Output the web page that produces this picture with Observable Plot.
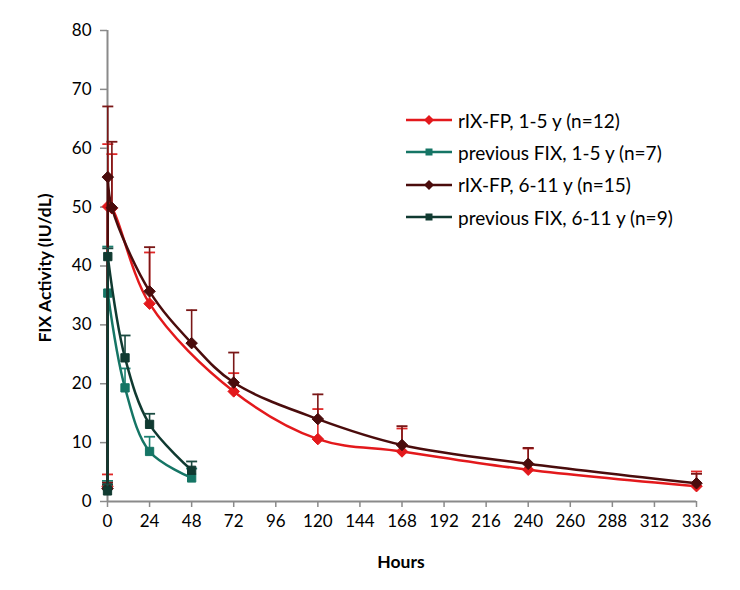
<!DOCTYPE html>
<html><head><meta charset="utf-8">
<script src="https://cdn.jsdelivr.net/npm/d3@7"></script>
<script src="https://cdn.jsdelivr.net/npm/@observablehq/plot@0.6"></script>
<style>
body{margin:0;background:#fff;}
#wrap{position:relative;width:740px;height:590px;font-family:Lato,"Open Sans",sans-serif;color:#000;}
#wrap svg.plot{position:absolute;left:0;top:0;}
.title{position:absolute;font-weight:bold;font-size:17.5px;white-space:nowrap;}
#ytitle{left:44px;top:268px;transform:translate(-50%,-50%) rotate(-90deg);}
#xtitle{left:401px;top:561px;transform:translate(-50%,-50%);}
#legend{position:absolute;left:406px;top:104px;font-size:19px;}
#legend .row{display:flex;align-items:center;height:32.3px;}
#legend svg{margin-right:6px;}
</style></head><body><div id="wrap"></div>
<script>
const seriesNames = ["rIX-FP, 1-5 y (n=12)", "previous FIX, 1-5 y (n=7)", "rIX-FP, 6-11 y (n=15)", "previous FIX, 6-11 y (n=9)"];
const seriesColors = ["#e3191c", "#157565", "#4a0c0c", "#103a31"];
const errorColors = ["#e02828", "#1c8070", "#7a1717", "#1a4a40"];
const seriesSymbols = ["diamond", "square", "diamond", "square"];

const hoursRixYoung = [0, 0.17, 2.5, 24, 72, 120, 168, 240, 336];
const meanRixYoung  = [2.6, 50.1, 49.8, 33.6, 18.7, 10.6, 8.5, 5.4, 2.6];
const upperRixYoung = [4.6, 60.7, 59.0, 42.3, 21.8, 15.7, 12.4, 9.0, 5.1];

const hoursPrevYoung = [0, 0.17, 10, 24, 48];
const meanPrevYoung  = [2.5, 35.4, 19.3, 8.5, 4.0];
const upperPrevYoung = [3.5, 43.3, 22.6, 11.0, 5.6];

const hoursRixOld = [0, 0.17, 2.5, 24, 48, 72, 120, 168, 240, 336];
const meanRixOld  = [2.2, 55.1, 49.9, 35.7, 26.9, 20.2, 14.0, 9.6, 6.4, 3.1];
const upperRixOld = [3.2, 67.1, 61.1, 43.2, 32.5, 25.3, 18.2, 12.8, 9.1, 4.7];

const hoursPrevOld = [0, 0.17, 10, 24, 48];
const meanPrevOld  = [1.8, 41.6, 24.4, 13.1, 5.3];
const upperPrevOld = [2.9, 43.0, 28.2, 14.9, 6.8];

const xTicks = [0, 24, 48, 72, 96, 120, 144, 168, 192, 216, 240, 264, 288, 312, 336];
const xTickLabels = ["0", "24", "48", "72", "96", "120", "144", "168", "192", "216", "240", "260", "288", "312", "336"];
const yTicks = [0, 10, 20, 30, 40, 50, 60, 70, 80];

const seriesData = [
  [hoursRixYoung, meanRixYoung, upperRixYoung],
  [hoursPrevYoung, meanPrevYoung, upperPrevYoung],
  [hoursRixOld, meanRixOld, upperRixOld],
  [hoursPrevOld, meanPrevOld, upperPrevOld]
].map(([h, m, u], s) => h.map((t, i) => ({series: s, t, mean: m[i], upper: u[i]})));

function r(size) { return Math.sqrt(size / Math.PI); }
const diamondSym = {draw(ctx, size) { const a = r(size) * 1.25; ctx.moveTo(0, -a); ctx.lineTo(a, 0); ctx.lineTo(0, a); ctx.lineTo(-a, 0); ctx.closePath(); }};
const squareSym = {draw(ctx, size) { const a = r(size) * 0.9; ctx.rect(-a, -a, 2 * a, 2 * a); }};
const capSym = {draw(ctx, size) { const a = r(size); ctx.moveTo(-a, 0); ctx.lineTo(a, 0); }};
const symMap = {diamond: diamondSym, square: squareSym};

const marks = [];
seriesData.forEach((rows, s) => {
  const col = seriesColors[s];
  const ecol = errorColors[s];
  marks.push(Plot.line(rows.slice(0, 2), {x: "t", y: "mean", stroke: col, strokeWidth: 2.5}));
  marks.push(Plot.line(rows.slice(1), {x: "t", y: "mean", stroke: col, strokeWidth: 2.5, curve: "catmull-rom"}));
  marks.push(Plot.ruleX(rows, {x: "t", y1: "mean", y2: "upper", stroke: ecol, strokeWidth: 1.6}));
  marks.push(Plot.dot(rows, {x: "t", y: "upper", symbol: capSym, r: 5.5, stroke: ecol, strokeWidth: 1.8, fill: "none"}));
  marks.push(Plot.dot(rows, {x: "t", y: "mean", symbol: symMap[seriesSymbols[s]], r: 4.6, fill: col, stroke: col, strokeWidth: 1}));
});

const chart = Plot.plot({
  width: 740, height: 590,
  marginLeft: 107, marginRight: 44, marginTop: 30, marginBottom: 89,
  style: {fontFamily: "Lato, 'Open Sans', sans-serif", fontSize: "17px", color: "#000", background: "#fff"},
  x: {domain: [0, 336]},
  y: {domain: [0, 80]},
  marks: [
    Plot.axisY({ticks: yTicks, tickSize: 7, tickPadding: 9, stroke: "#8a8a8a", strokeWidth: 1.5, color: "#000", label: null, fontSize: 17}),
    Plot.axisX({ticks: xTicks, tickFormat: d => xTickLabels[xTicks.indexOf(d)], tickSize: 6, tickPadding: 7, stroke: "#8a8a8a", strokeWidth: 1.5, color: "#000", label: null, fontSize: 17}),
    Plot.ruleX([0], {stroke: "#8a8a8a", strokeWidth: 2}),
    Plot.ruleY([0], {stroke: "#8a8a8a", strokeWidth: 2}),
    ...marks
  ]
});
chart.classList.add("plot");
const wrap = document.getElementById("wrap");
wrap.appendChild(chart);

const yt = document.createElement("div"); yt.className = "title"; yt.id = "ytitle"; yt.textContent = "FIX Activity (IU/dL)"; wrap.appendChild(yt);
const xt = document.createElement("div"); xt.className = "title"; xt.id = "xtitle"; xt.textContent = "Hours"; wrap.appendChild(xt);

const legend = document.createElement("div"); legend.id = "legend";
seriesNames.forEach((name, s) => {
  const row = document.createElement("div"); row.className = "row";
  const ns = "http://www.w3.org/2000/svg";
  const sv = document.createElementNS(ns, "svg"); sv.setAttribute("width", 46); sv.setAttribute("height", 14);
  const ln = document.createElementNS(ns, "line");
  ln.setAttribute("x1", 0); ln.setAttribute("x2", 46); ln.setAttribute("y1", 7); ln.setAttribute("y2", 7);
  ln.setAttribute("stroke", seriesColors[s]); ln.setAttribute("stroke-width", 2.5);
  sv.appendChild(ln);
  const mk = document.createElementNS(ns, "path");
  mk.setAttribute("d", seriesSymbols[s] === "diamond" ? "M23,2L28,7L23,12L18,7Z" : "M19.5,3.5h7v7h-7Z");
  mk.setAttribute("fill", seriesColors[s]);
  sv.appendChild(mk);
  row.appendChild(sv);
  const tx = document.createElement("span"); tx.textContent = name; row.appendChild(tx);
  legend.appendChild(row);
});
wrap.appendChild(legend);
</script></body></html>
